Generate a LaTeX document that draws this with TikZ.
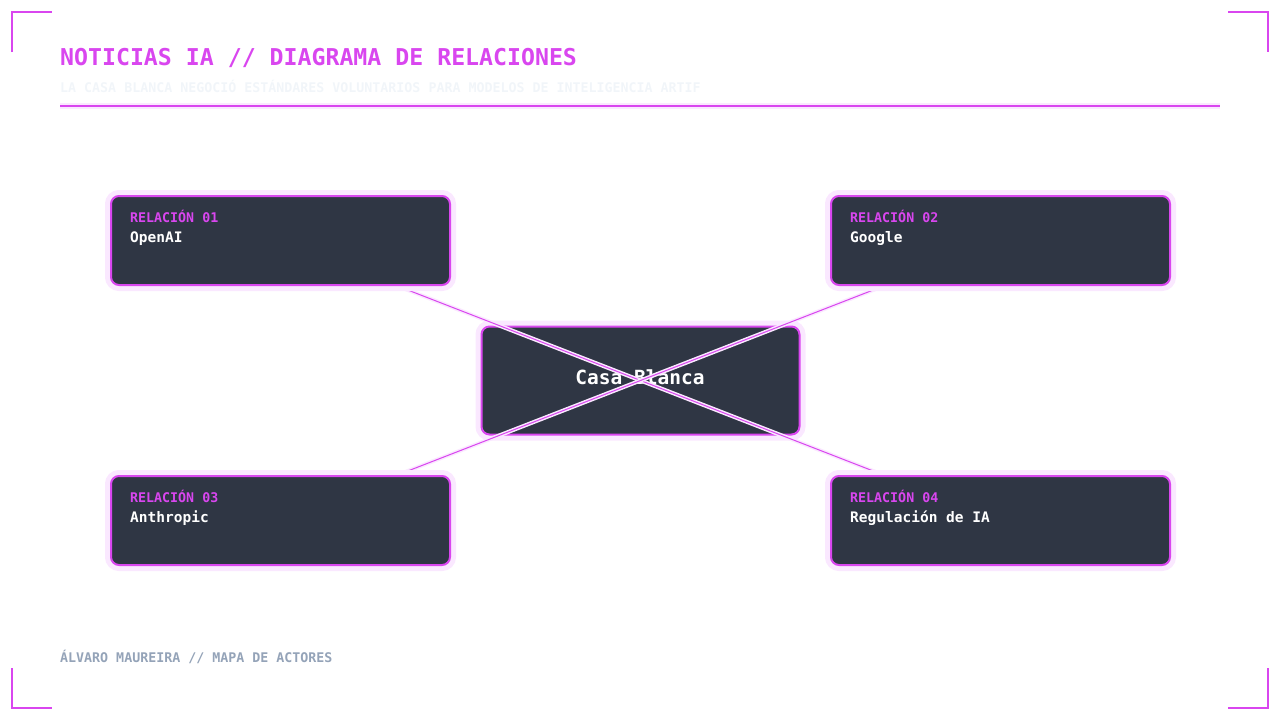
\documentclass[tikz,border=0pt]{standalone}
\usepackage{fontspec}
\setmonofont{DejaVu Sans Mono}
\newfontfamily\dmono{DejaVu Sans Mono}
\pgfdeclarelayer{back}
\pgfdeclarelayer{mid}
\pgfsetlayers{back,mid,main}
\definecolor{mag}{HTML}{D946EF}
\definecolor{glow}{HTML}{FAE8FF}
\definecolor{boxbg}{HTML}{2F3644}
\definecolor{faint}{HTML}{F1F5F9}
\definecolor{foot}{HTML}{94A3B8}
\tikzset{
  card/.style={draw=mag, line width=2pt, fill=boxbg, rounded corners=8pt,
    minimum width=339pt, minimum height=89pt, inner sep=0pt,
    preaction={draw=glow, line width=12pt, rounded corners=9pt}},
  hub/.style={card, minimum width=318pt, minimum height=108pt},
  tag/.style={anchor=base west, inner sep=0pt, text=mag, font=\dmono\bfseries\fontsize{13.3}{15}\selectfont},
  who/.style={anchor=base west, inner sep=0pt, text=white, font=\dmono\bfseries\fontsize{14.5}{17}\selectfont},
  link/.style={draw=mag, line width=1pt, preaction={draw=glow, line width=4pt}},
  corner/.style={draw=mag, line width=2pt}
}
\begin{document}
\begin{tikzpicture}[x=1pt,y=-1pt]
\useasboundingbox (0,0) rectangle (1280,720);
% corner brackets
\draw[corner] (12,52) -- (12,12) -- (52,12);
\draw[corner] (1228,12) -- (1268,12) -- (1268,52);
\draw[corner] (12,668) -- (12,708) -- (52,708);
\draw[corner] (1228,708) -- (1268,708) -- (1268,668);
% header
\node[anchor=base west, inner sep=0pt, text=mag, font=\dmono\bfseries\fontsize{23.2}{26}\selectfont] (title) at (60,65) {NOTICIAS IA // DIAGRAMA DE RELACIONES};
\node[anchor=base west, inner sep=0pt, text=faint, font=\dmono\bfseries\fontsize{13.3}{15}\selectfont] (sub) at (60,92) {LA CASA BLANCA NEGOCIÓ ESTÁNDARES VOLUNTARIOS PARA MODELOS DE INTELIGENCIA ARTIF};
\draw[glow, line width=6pt] (60,105.5) -- (1220,105.5);
\draw[mag, line width=2pt] (60,105.5) -- (1220,105.5);
% center
\begin{pgfonlayer}{back}
\node[hub] (ctr) at (640.5,380.5) {};
\node[anchor=base, inner sep=0pt, text=white, font=\dmono\bfseries\fontsize{19.5}{22}\selectfont] (ctrtxt) at (640,384) {Casa Blanca};
\end{pgfonlayer}
% cards
\node[card] (n1) at (280.5,240.5) {};
\node[card] (n2) at (1000.5,240.5) {};
\node[card] (n3) at (280.5,520.5) {};
\node[card] (n4) at (1000.5,520.5) {};
\begin{pgfonlayer}{mid}
\draw[link] (n1.center) -- (ctr.center) -- (n4.center);
\draw[link] (n2.center) -- (ctr.center) -- (n3.center);
\end{pgfonlayer}
\foreach \n/\t/\w in {n1/01/OpenAI, n2/02/Google, n3/03/Anthropic, n4/04/Regulación de IA}{
  \node[tag] (\n tag) at ([shift={(20,27)}]\n.north west) {RELACIÓN \t};
  \node[who] (\n who) at ([shift={(20,47)}]\n.north west) {\w};
}
% footer
\node[anchor=base west, inner sep=0pt, text=foot, font=\dmono\bfseries\fontsize{13.3}{15}\selectfont] (foot) at (60,662) {ÁLVARO MAUREIRA // MAPA DE ACTORES};
\end{tikzpicture}
\end{document}
